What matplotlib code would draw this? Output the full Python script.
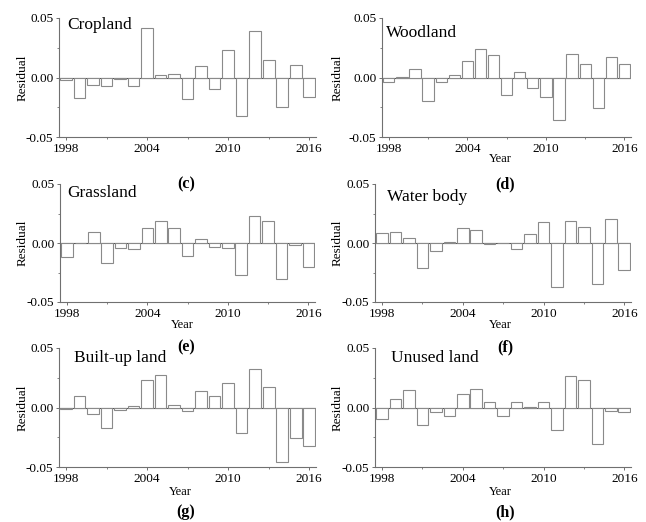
import matplotlib
matplotlib.use("Agg")
import matplotlib.pyplot as plt

plt.rcParams['font.family'] = ['Liberation Serif', 'DejaVu Serif']

years = list(range(1998, 2017))
cropland = [-0.002, -0.017, -0.006, -0.007, -0.0015, -0.007, 0.042, 0.002, 0.003, -0.018,
            0.0095, -0.010, 0.0235, -0.032, 0.039, 0.0147, -0.025, 0.0103, -0.016]
woodland = [-0.004, 0.0008, 0.0075, -0.020, -0.004, 0.0025, 0.014, 0.024, 0.0186, -0.0147,
            0.005, -0.0086, -0.0167, -0.036, 0.020, 0.0117, -0.0256, 0.0172, 0.0117]
grassland = [-0.012, -0.0003, 0.0096, -0.0167, -0.004, -0.0048, 0.0127, 0.0187, 0.0127, -0.011,
             0.0034, -0.0034, -0.004, -0.027, 0.023, 0.019, -0.0306, -0.0014, -0.020]
water = [0.0082, 0.0093, 0.004, -0.0215, -0.0068, 0.0011, 0.013, 0.011, -0.0008, 0.0,
         -0.0054, 0.0074, 0.018, -0.0376, 0.0187, 0.0139, -0.035, 0.0204, -0.023]
builtup = [-0.001, 0.0093, -0.0056, -0.0174, -0.002, 0.0011, 0.023, 0.0275, 0.002, -0.0028,
           0.0135, 0.010, 0.0208, -0.0216, 0.0323, 0.0174, -0.0458, -0.026, -0.032]
unused = [-0.0098, 0.007, 0.0143, -0.0146, -0.0042, -0.007, 0.0112, 0.0157, 0.0048, -0.007,
          0.0048, 0.0003, 0.0048, -0.019, 0.0267, 0.0233, -0.031, -0.0028, -0.0039]

names = ["Cropland", "Woodland", "Grassland", "Water body", "Built-up land", "Unused land"]
series = [cropland, woodland, grassland, water, builtup, unused]
captions = ["(c)", "(d)", "(e)", "(f)", "(g)", "(h)"]
xticks = [1998, 2004, 2010, 2016]
xminor = [2001, 2007, 2013]
yticks = [-0.05, 0.0, 0.05]
ytick_labels = ["-0.05", "0.00", "0.05"]
yminor = [-0.025, 0.025]

W, H = 646, 522
fig = plt.figure(figsize=(W / 100, H / 100), dpi=100)

# pixel boxes: x0, ytop, x1, ybottom
boxes = [(59, 18, 316, 137), (382, 18, 631, 137),
         (60, 184, 315, 302), (375, 184, 631, 302),
         (59, 348, 316, 467), (375, 348, 631, 467)]
name_pos = [(67, 25), (386, 33), (67, 193), (387, 197), (74, 358), (391, 358)]
year_lbl = [None, (500, 159), (182, 325), (500, 325), (180, 492), (500, 492)]
cap_pos = [(186, 184), (505, 184), (186, 347), (505, 347), (186, 512), (505, 512)]
ylab_x = [23, 338, 23, 338, 23, 338]

gray = '#707070'
for i, (box, vals) in enumerate(zip(boxes, series)):
    x0, yt, x1, yb = box
    ax = fig.add_axes([x0 / W, 1 - yb / H, (x1 - x0) / W, (yb - yt) / H])
    ax.bar(years, vals, width=0.86, facecolor='white', edgecolor='#8a8a8a', linewidth=0.8)
    ax.axhline(0, color='#555555', linewidth=0.8, zorder=0.5)
    ax.set_xlim(1997.48, 2016.5)
    ax.set_ylim(-0.05, 0.05)
    ax.set_xticks(xticks)
    ax.set_xticks(xminor, minor=True)
    ax.set_yticks(yticks)
    ax.set_yticklabels(ytick_labels)
    ax.set_yticks(yminor, minor=True)
    for s in ['top', 'right']:
        ax.spines[s].set_visible(False)
    for s in ['left', 'bottom']:
        ax.spines[s].set_color(gray)
        ax.spines[s].set_linewidth(0.8)
    ax.tick_params(which='major', length=2.5, width=0.7, color=gray, labelsize=9.5, pad=1.5)
    ax.tick_params(which='minor', length=1.5, width=0.6, color=gray)
    ax.set_facecolor('none')
    nx, ny = name_pos[i]
    fig.text(nx / W, 1 - ny / H, names[i], fontsize=12.5, ha='left', va='center')
    cyc = (yt + yb) / 2
    fig.text(ylab_x[i] / W, 1 - cyc / H, "Residual", fontsize=9.5, rotation=90,
             ha='center', va='center')
    if year_lbl[i] is not None:
        yx, yy = year_lbl[i]
        fig.text(yx / W, 1 - yy / H, "Year", fontsize=9, ha='center', va='center')
    cx, cy = cap_pos[i]
    fig.text(cx / W, 1 - cy / H, captions[i], fontsize=11.5, fontweight='bold',
             ha='center', va='center')

fig.savefig("out.png", dpi=100)
